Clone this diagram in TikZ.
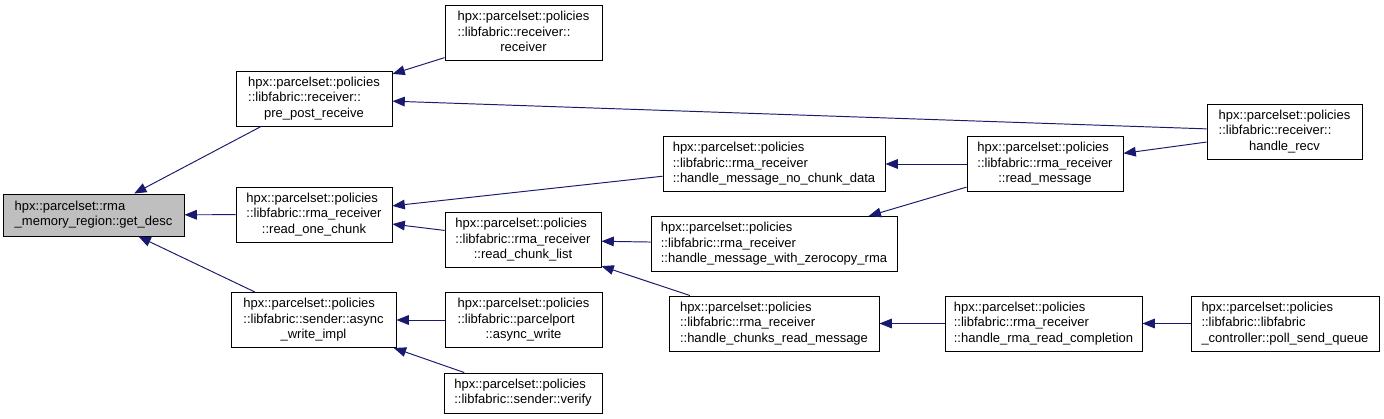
\documentclass[tikz,border=0pt]{standalone}
\usepackage{fontspec}
\setmainfont{Liberation Sans}
\definecolor{dxEdge}{RGB}{25,25,112}
\definecolor{dxGray}{RGB}{191,191,191}
\usetikzlibrary{arrows.meta}
\newcommand{\fnlabel}[2]{\begin{tabular}{@{}l@{}}#1\\\multicolumn{1}{@{}c@{}}{#2}\end{tabular}}

\begin{document}
\begin{tikzpicture}[x=0.2mm, y=-0.2mm,
  fn/.style={draw, line width=0.55pt, inner sep=0pt, minimum height=1.1cm,
             font=\fontsize{7.4}{8.8}\selectfont},
  call/.style={{Triangle[length=7pt,width=5.5pt]}-, dxEdge, line width=0.55pt}
]
  \useasboundingbox (0,0) rectangle (1384,419);

  % callee
  \node[fn, fill=dxGray, minimum width=3.62cm, minimum height=0.84cm] (get) at (93.5,215)
    {\fnlabel{hpx::parcelset::rma}{\_memory\_region::get\_desc}};

  % first level callers
  \node[fn, minimum width=3.12cm] (ppr) at (314,98.5)
    {\fnlabel{hpx::parcelset::policies\\::libfabric::receiver::}{pre\_post\_receive}};
  \node[fn, minimum width=3.12cm] (roc) at (314,214.5)
    {\fnlabel{hpx::parcelset::policies\\::libfabric::rma\_receiver}{::read\_one\_chunk}};
  \node[fn, minimum width=3.3cm] (awi) at (313.5,320)
    {\fnlabel{hpx::parcelset::policies\\::libfabric::sender::async}{\_write\_impl}};

  % second level
  \node[fn, minimum width=3.14cm] (recv) at (523.5,33)
    {\fnlabel{hpx::parcelset::policies\\::libfabric::receiver::}{receiver}};
  \node[fn, minimum width=3.12cm] (rcl) at (523,240)
    {\fnlabel{hpx::parcelset::policies\\::libfabric::rma\_receiver}{::read\_chunk\_list}};
  \node[fn, minimum width=3.14cm] (aw) at (523.5,320)
    {\fnlabel{hpx::parcelset::policies\\::libfabric::parcelport}{::async\_write}};
  \node[fn, minimum width=3.16cm, minimum height=0.8cm] (ver) at (523,393)
    {\fnlabel{hpx::parcelset::policies}{::libfabric::sender::verify}};

  % third level
  \node[fn, minimum width=4.44cm] (nocd) at (774,164)
    {\fnlabel{hpx::parcelset::policies\\::libfabric::rma\_receiver}{::handle\_message\_no\_chunk\_data}};
  \node[fn, minimum width=4.92cm] (zc) at (774,244)
    {\fnlabel{hpx::parcelset::policies\\::libfabric::rma\_receiver}{::handle\_message\_with\_zerocopy\_rma}};
  \node[fn, minimum width=4.2cm] (chk) at (774,323.5)
    {\fnlabel{hpx::parcelset::policies\\::libfabric::rma\_receiver}{::handle\_chunks\_read\_message}};

  % fourth level and beyond
  \node[fn, minimum width=3.12cm] (rm) at (1045,164)
    {\fnlabel{hpx::parcelset::policies\\::libfabric::rma\_receiver}{::read\_message}};
  \node[fn, minimum width=3.94cm] (rrc) at (1043.5,323.5)
    {\fnlabel{hpx::parcelset::policies\\::libfabric::rma\_receiver}{::handle\_rma\_read\_completion}};
  \node[fn, minimum width=3.1cm] (hr) at (1284.5,131.5)
    {\fnlabel{hpx::parcelset::policies\\::libfabric::receiver::}{handle\_recv}};
  \node[fn, minimum width=3.76cm] (psq) at (1285,323.5)
    {\fnlabel{hpx::parcelset::policies\\::libfabric::libfabric}{\_controller::poll\_send\_queue}};

  % calls
  \draw[call] (get) -- (ppr);
  \draw[call] (get) -- (roc);
  \draw[call] (get) -- (awi);
  \draw[call] (ppr) -- (recv);
  \draw[call] (ppr) -- (hr);
  \draw[call] (roc) -- (nocd);
  \draw[call] (roc) -- (rcl);
  \draw[call] (rcl) -- (zc);
  \draw[call] (rcl) -- (chk);
  \draw[call] (awi) -- (aw);
  \draw[call] (awi) -- (ver);
  \draw[call] (nocd) -- (rm);
  \draw[call] (zc) -- (rm);
  \draw[call] (rm) -- (hr);
  \draw[call] (chk) -- (rrc);
  \draw[call] (rrc) -- (psq);
\end{tikzpicture}
\end{document}
